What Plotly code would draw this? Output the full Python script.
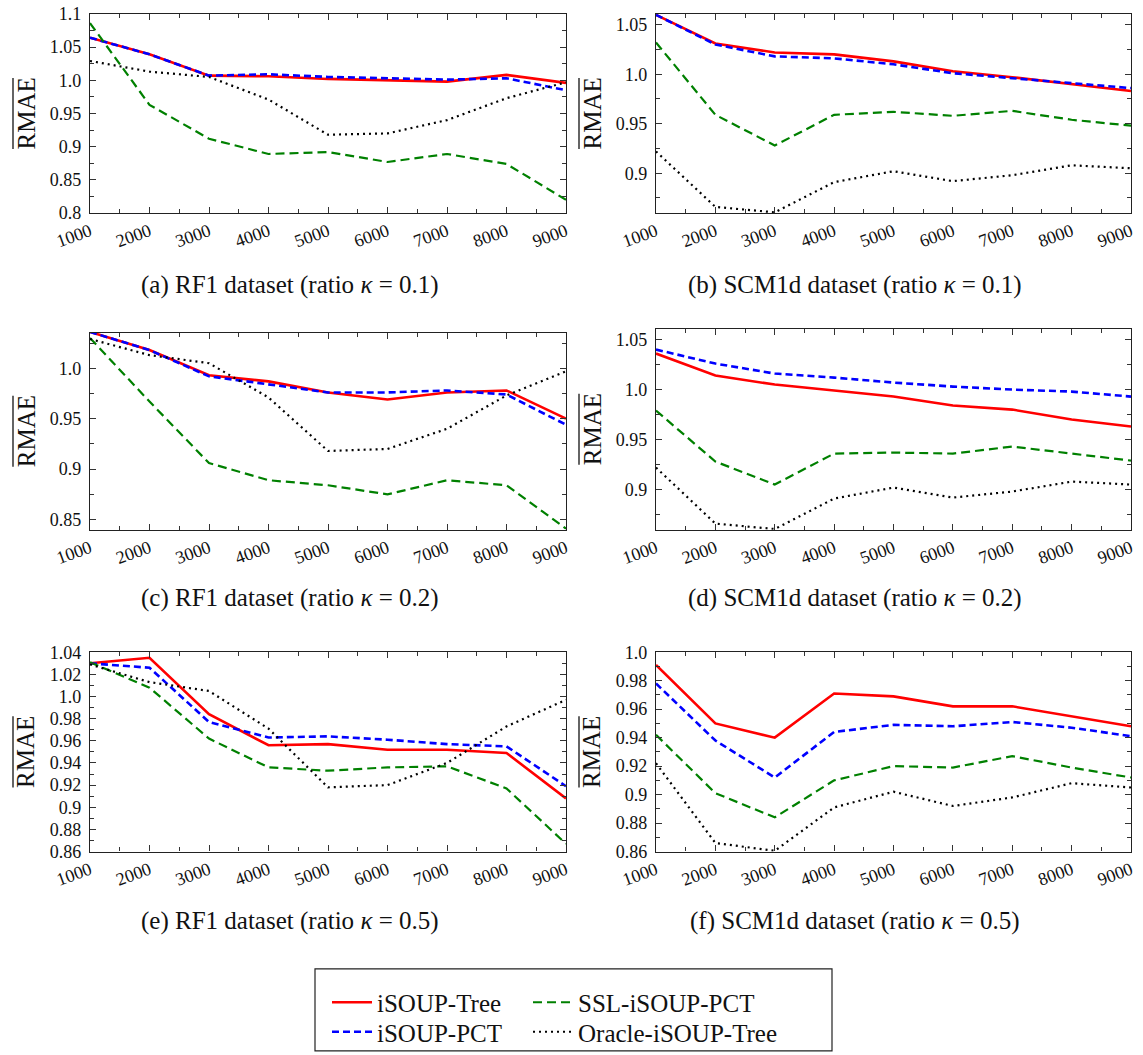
import plotly.graph_objects as go

W, H = 1143, 1055
FONT = "Liberation Serif"

# ---------------- data ----------------
sizes = [1000, 2000, 3000, 4000, 5000, 6000, 7000, 8000, 9000]
series_names = ["iSOUP-Tree", "iSOUP-PCT", "SSL-iSOUP-PCT", "Oracle-iSOUP-Tree"]

rf1_oracle = [1.029, 1.013, 1.005, 0.971, 0.918, 0.920, 0.940, 0.973, 0.997]
scm_oracle = [0.922, 0.866, 0.8605, 0.891, 0.902, 0.892, 0.898, 0.908, 0.905]

rf1_k01_tree = [1.064, 1.039, 1.007, 1.006, 1.002, 1.000, 0.998, 1.008, 0.996]
rf1_k01_pct = [1.064, 1.039, 1.007, 1.009, 1.005, 1.003, 1.001, 1.003, 0.985]
rf1_k01_ssl = [1.086, 0.963, 0.912, 0.889, 0.892, 0.877, 0.889, 0.874, 0.820]

scm_k01_tree = [1.060, 1.031, 1.022, 1.020, 1.013, 1.003, 0.997, 0.990, 0.983]
scm_k01_pct = [1.060, 1.030, 1.018, 1.016, 1.010, 1.001, 0.996, 0.991, 0.986]
scm_k01_ssl = [1.032, 0.959, 0.928, 0.959, 0.962, 0.958, 0.963, 0.954, 0.948]

rf1_k02_tree = [1.036, 1.018, 0.993, 0.987, 0.976, 0.969, 0.976, 0.978, 0.950]
rf1_k02_pct = [1.036, 1.018, 0.992, 0.984, 0.976, 0.976, 0.978, 0.974, 0.944]
rf1_k02_ssl = [1.030, 0.967, 0.906, 0.889, 0.884, 0.875, 0.889, 0.884, 0.841]

scm_k02_tree = [1.036, 1.014, 1.005, 0.999, 0.993, 0.984, 0.980, 0.970, 0.963]
scm_k02_pct = [1.040, 1.026, 1.016, 1.012, 1.007, 1.003, 1.000, 0.998, 0.993]
scm_k02_ssl = [0.979, 0.928, 0.905, 0.936, 0.937, 0.936, 0.943, 0.936, 0.929]

rf1_k05_tree = [1.030, 1.035, 0.984, 0.956, 0.957, 0.952, 0.952, 0.949, 0.908]
rf1_k05_pct = [1.030, 1.026, 0.977, 0.963, 0.964, 0.961, 0.957, 0.955, 0.919]
rf1_k05_ssl = [1.031, 1.008, 0.962, 0.936, 0.933, 0.936, 0.937, 0.917, 0.867]

scm_k05_tree = [0.991, 0.950, 0.940, 0.971, 0.969, 0.962, 0.962, 0.955, 0.948]
scm_k05_pct = [0.978, 0.938, 0.912, 0.944, 0.949, 0.948, 0.951, 0.947, 0.941]
scm_k05_ssl = [0.942, 0.901, 0.884, 0.910, 0.920, 0.919, 0.927, 0.919, 0.912]

captions = [
    "(a) RF1 dataset (ratio <i>κ</i> = 0.1)",
    "(b) SCM1d dataset (ratio <i>κ</i> = 0.1)",
    "(c) RF1 dataset (ratio <i>κ</i> = 0.2)",
    "(d) SCM1d dataset (ratio <i>κ</i> = 0.2)",
    "(e) RF1 dataset (ratio <i>κ</i> = 0.5)",
    "(f) SCM1d dataset (ratio <i>κ</i> = 0.5)",
]
y_title = "RMAE"

ticks_a = [0.8, 0.85, 0.9, 0.95, 1.0, 1.05, 1.1]
labels_a = ["0.8", "0.85", "0.9", "0.95", "1.0", "1.05", "1.1"]
ticks_b = [0.9, 0.95, 1.0, 1.05]
labels_b = ["0.9", "0.95", "1.0", "1.05"]
ticks_c = [0.85, 0.9, 0.95, 1.0]
labels_c = ["0.85", "0.9", "0.95", "1.0"]
ticks_e = [0.86, 0.88, 0.9, 0.92, 0.94, 0.96, 0.98, 1.0, 1.02, 1.04]
labels_e = ["0.86", "0.88", "0.9", "0.92", "0.94", "0.96", "0.98", "1.0", "1.02", "1.04"]
ticks_f = [0.86, 0.88, 0.9, 0.92, 0.94, 0.96, 0.98, 1.0]
labels_f = ["0.86", "0.88", "0.9", "0.92", "0.94", "0.96", "0.98", "1.0"]

# ---------------- panel layout (pixels) ----------------
panels = [
    dict(box=(90, 566, 14, 216), data=(rf1_k01_tree, rf1_k01_pct, rf1_k01_ssl, rf1_oracle),
         yr=(0.8, 1.1), tv=ticks_a, tt=labels_a, minor=0.025, cap_x=290, cap_y=289),
    dict(box=(656, 1131, 14, 216), data=(scm_k01_tree, scm_k01_pct, scm_k01_ssl, scm_oracle),
         yr=(0.8597, 1.061), tv=ticks_b, tt=labels_b, minor=0.025, cap_x=855, cap_y=289),
    dict(box=(90, 566, 337, 537), data=(rf1_k02_tree, rf1_k02_pct, rf1_k02_ssl, rf1_oracle),
         yr=(0.8398, 1.0354), tv=ticks_c, tt=labels_c, minor=0.025, cap_x=290, cap_y=606),
    dict(box=(656, 1131, 333, 537), data=(scm_k02_tree, scm_k02_pct, scm_k02_ssl, scm_oracle),
         yr=(0.8597, 1.061), tv=ticks_b, tt=labels_b, minor=0.025, cap_x=855, cap_y=606),
    dict(box=(90, 566, 661, 863), data=(rf1_k05_tree, rf1_k05_pct, rf1_k05_ssl, rf1_oracle),
         yr=(0.86, 1.04), tv=ticks_e, tt=labels_e, minor=0.01, cap_x=290, cap_y=933),
    dict(box=(656, 1131, 661, 863), data=(scm_k05_tree, scm_k05_pct, scm_k05_ssl, scm_oracle),
         yr=(0.86, 1.0), tv=ticks_f, tt=labels_f, minor=0.01, cap_x=855, cap_y=933),
]

styles = [
    dict(color="#ff0000", width=2.6, dash="solid"),
    dict(color="#0000ff", width=2.6, dash="7px,4px"),
    dict(color="#008000", width=2.2, dash="9px,5px"),
    dict(color="#000000", width=2.2, dash="2px,4px"),
]
legend_of = ["legend", "legend3", "legend2", "legend4"]


def px(x):
    return x / W


def py(y):
    return 1 - y / H


fig = go.Figure()
annotations = []
shapes = []

for i, p in enumerate(panels):
    n = i + 1
    xa = "x" if n == 1 else f"x{n}"
    ya = "y" if n == 1 else f"y{n}"
    for k, (vals, st) in enumerate(zip(p["data"], styles)):
        fig.add_trace(go.Scatter(
            x=sizes, y=vals, mode="lines", name=series_names[k],
            line=dict(color=st["color"], width=st["width"], dash=st["dash"]),
            xaxis=xa, yaxis=ya, showlegend=(i == 0),
            legend=legend_of[k],
        ))
    x0, x1, y0, y1 = p["box"]
    common = dict(
        showline=True, linecolor="#222", linewidth=1.2, mirror="allticks",
        ticks="inside", ticklen=6, tickcolor="#333", tickwidth=1,
        showgrid=False, zeroline=False, automargin=False,
        tickfont=dict(family=FONT, size=18, color="#111"),
    )
    fig.layout[("xaxis" if n == 1 else f"xaxis{n}")] = dict(
        common, domain=[px(x0), px(x1)], range=[1000, 9000], anchor=ya,
        tickvals=sizes, ticktext=[str(s) for s in sizes], tickangle=-20,
        minor=dict(ticks="inside", ticklen=4, tickcolor="#333", dtick=500, tick0=1000, showgrid=False),
    )
    fig.layout[("yaxis" if n == 1 else f"yaxis{n}")] = dict(
        common, domain=[py(y1), py(y0)], range=list(p["yr"]), anchor=xa,
        tickvals=p["tv"], ticktext=p["tt"], ticklabelstandoff=4,
        minor=dict(ticks="inside", ticklen=4, tickcolor="#333", dtick=p["minor"], tick0=0.8, showgrid=False),
    )
    # y title with overline
    yc = (y0 + y1) / 2
    tx = x0 - 64
    annotations.append(dict(
        text=y_title, x=px(tx), y=py(yc), xref="paper", yref="paper",
        textangle=-90, showarrow=False, xanchor="center", yanchor="middle",
        font=dict(family=FONT, size=25, color="#111"),
    ))
    shapes.append(dict(type="line", xref="paper", yref="paper",
                       x0=px(tx - 13), x1=px(tx - 13), y0=py(yc - 36), y1=py(yc + 36),
                       line=dict(color="#111", width=1.3)))
    annotations.append(dict(
        text=captions[i], x=px(p["cap_x"]), y=py(p["cap_y"]), xref="paper", yref="paper",
        showarrow=False, xanchor="center", yanchor="middle",
        font=dict(family=FONT, size=25, color="#111"),
    ))

# legend frame
shapes.append(dict(type="rect", xref="paper", yref="paper",
                   x0=px(315), x1=px(832), y0=py(1065), y1=py(982),
                   line=dict(color="#222", width=1.2), fillcolor="rgba(0,0,0,0)"))

leg_common = dict(orientation="h", xanchor="left", yanchor="middle",
                  font=dict(family=FONT, size=25, color="#111"),
                  bgcolor="rgba(0,0,0,0)", borderwidth=0, itemwidth=40)

fig.update_layout(
    width=W, height=H, autosize=False,
    margin=dict(l=0, r=0, t=0, b=0),
    paper_bgcolor="white", plot_bgcolor="white",
    annotations=annotations, shapes=shapes,
    legend=dict(leg_common, x=px(327), y=py(1016)),
    legend2=dict(leg_common, x=px(528), y=py(1016)),
    legend3=dict(leg_common, x=px(327), y=py(1046)),
    legend4=dict(leg_common, x=px(528), y=py(1046)),
)

fig.write_html("out.html")
